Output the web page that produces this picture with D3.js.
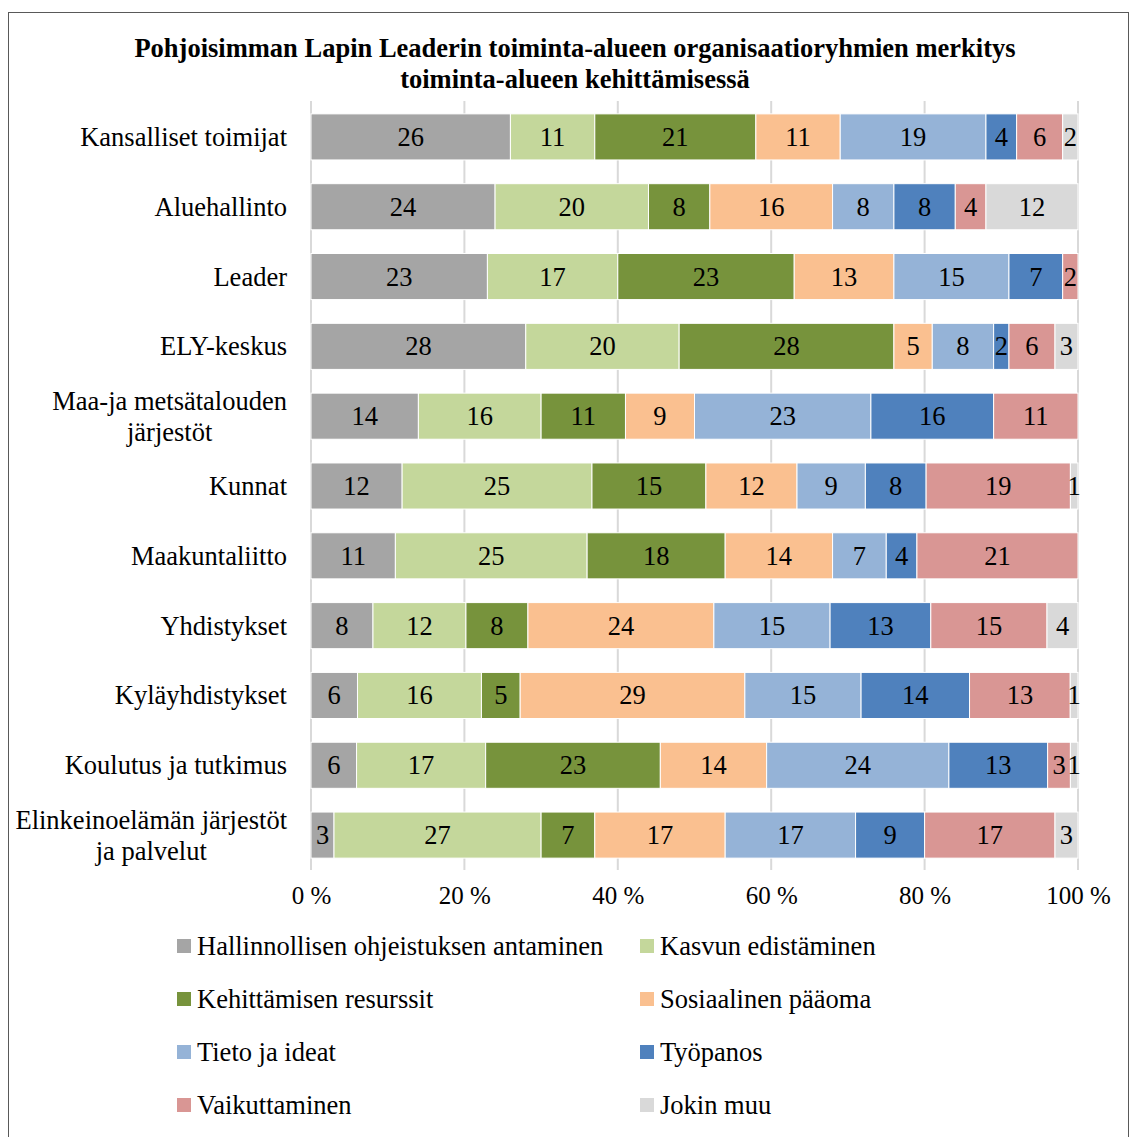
<!DOCTYPE html>
<html><head><meta charset="utf-8">
<script src="https://cdn.jsdelivr.net/npm/d3@7"></script>
<style>body{margin:0;background:#fff;} svg{display:block;} text{font-family:"Liberation Serif","Times New Roman",serif;}</style>
</head><body>
<script>
const categories = ["Kansalliset toimijat","Aluehallinto","Leader","ELY-keskus","Maa-ja metsätalouden\njärjestöt","Kunnat","Maakuntaliitto","Yhdistykset","Kyläyhdistykset","Koulutus ja tutkimus","Elinkeinoelämän järjestöt\nja palvelut"];
const seriesNames = ["Hallinnollisen ohjeistuksen antaminen","Kasvun edistäminen","Kehittämisen resurssit","Sosiaalinen pääoma","Tieto ja ideat","Työpanos","Vaikuttaminen","Jokin muu"];
const hallinnollisen = [26,24,23,28,14,12,11,8,6,6,3];
const kasvun        = [11,20,17,20,16,25,25,12,16,17,27];
const kehittamisen  = [21,8,23,28,11,15,18,8,5,23,7];
const sosiaalinen   = [11,16,13,5,9,12,14,24,29,14,17];
const tieto         = [19,8,15,8,23,9,7,15,15,24,17];
const tyopanos      = [4,8,7,2,16,8,4,13,14,13,9];
const vaikuttaminen = [6,4,2,6,11,19,21,15,13,3,17];
const jokinMuu      = [2,12,0,3,0,1,0,4,1,1,3];
const tickValues = [0,0.2,0.4,0.6,0.8,1.0];
const tickLabels = ["0 %","20 %","40 %","60 %","80 %","100 %"];
const colors = ["#A5A5A5","#C4D79B","#77933C","#FAC090","#95B3D7","#4F81BD","#D99694","#D9D9D9"];
const title = ["Pohjoisimman Lapin Leaderin toiminta-alueen organisaatioryhmien merkitys","toiminta-alueen kehittämisessä"];

const seriesArrays = [hallinnollisen,kasvun,kehittamisen,sosiaalinen,tieto,tyopanos,vaikuttaminen,jokinMuu];
const rows = categories.map((c,i)=>{const o={cat:c}; seriesNames.forEach((s,j)=>o[s]=seriesArrays[j][i]); return o;});

const W=1131,H=1137;
const FS=26.5;
const svg=d3.select("body").append("svg").attr("width",W).attr("height",H);
svg.append("rect").attr("x",8.5).attr("y",12.5).attr("width",1120).attr("height",1130).attr("fill","#fff").attr("stroke","#595959").attr("stroke-width",1);

svg.append("g").selectAll("text").data(title).join("text")
  .attr("x",575).attr("y",(d,i)=>57+i*31).attr("text-anchor","middle")
  .attr("font-weight","bold").attr("font-size",FS).text(d=>d);

const x=d3.scaleLinear().domain([0,1]).range([311,1078]);
const y=d3.scaleBand().domain(categories).range([102,870]).paddingInner(0.34).paddingOuter(0.17);

// gridlines
svg.append("g").selectAll("line").data(tickValues).join("line")
  .attr("x1",d=>x(d)).attr("x2",d=>x(d)).attr("y1",101).attr("y2",870)
  .attr("stroke","#D9D9D9").attr("stroke-width",2);

const stack=d3.stack().keys(seriesNames).offset(d3.stackOffsetExpand);
const stacked=stack(rows);

const g=svg.append("g");
stacked.forEach((layer,li)=>{
  const lg=g.append("g");
  lg.selectAll("rect").data(layer).join("rect")
    .attr("x",d=>x(d[0])).attr("width",d=>Math.max(0,x(d[1])-x(d[0])))
    .attr("y",d=>y(d.data.cat)).attr("height",y.bandwidth())
    .attr("fill",colors[li]).attr("stroke","#fff").attr("stroke-width",1);
  lg.selectAll("text").data(layer.filter(d=>d.data[layer.key]>0)).join("text")
    .attr("x",d=>(x(d[0])+x(d[1]))/2).attr("y",d=>y(d.data.cat)+y.bandwidth()/2+9)
    .attr("text-anchor","middle").attr("font-size",FS).attr("fill","#000")
    .text(d=>d.data[layer.key]);
});

// x axis labels
const xAxis=d3.axisBottom(x).tickValues(tickValues).tickFormat((d,i)=>tickLabels[i]).tickSize(0);
const ax=svg.append("g").attr("transform","translate(0,881)").call(xAxis);
ax.select(".domain").remove();
ax.selectAll("text").attr("font-size",25).attr("font-family","Liberation Serif").attr("fill","#000").attr("dy","0.8em");

// category labels
const yl=svg.append("g");
categories.forEach(c=>{
  const lines=c.split("\n");
  const t=yl.append("text").attr("font-size",FS).attr("fill","#000");
  const cy=y(c)+y.bandwidth()/2;
  if(lines.length===1){
    t.attr("x",287).attr("y",cy+9).attr("text-anchor","end").text(c);
  } else {
    const tmp=lines.map(l=>{const tt=yl.append("text").attr("font-size",FS).text(l);const w=tt.node().getComputedTextLength();tt.remove();return w;});
    const maxW=d3.max(tmp);
    const center=287-maxW/2;
    lines.forEach((l,i)=>{
      t.append("tspan").attr("x",center).attr("y",cy+9+(i-0.5)*31).attr("text-anchor","middle").text(l);
    });
  }
});

// legend
const legend=svg.append("g");
seriesNames.forEach((s,i)=>{
  const col=i%2,row=Math.floor(i/2);
  const lx=col===0?177:640, ly=946+row*53;
  legend.append("rect").attr("x",lx).attr("y",ly-7).attr("width",14).attr("height",14).attr("fill",colors[i]);
  legend.append("text").attr("x",lx+20).attr("y",ly+9).attr("font-size",FS).attr("fill","#000").text(s);
});
</script>
</body></html>
